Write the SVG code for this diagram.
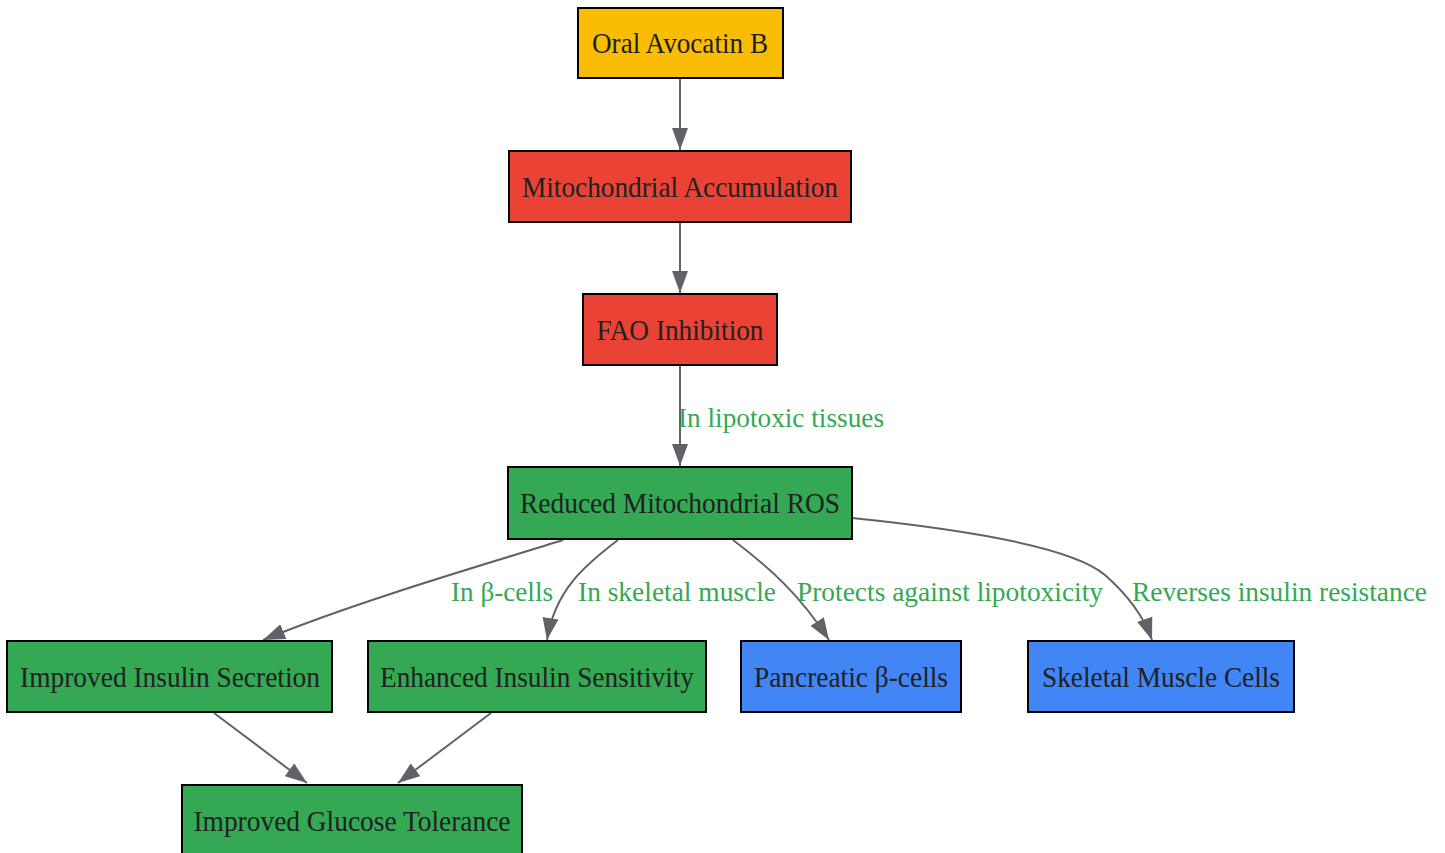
<svg xmlns="http://www.w3.org/2000/svg" width="1445" height="853" viewBox="0 0 1445 853">
<style>
.n rect{stroke:#000;stroke-width:2}
.n text{font-family:"Liberation Serif","Times New Roman",serif;font-size:29px;fill:#202124;text-anchor:middle}
.y{fill:#FBBC04}.r{fill:#EA4335}.g{fill:#34A853}.b{fill:#4285F4}
.e path{fill:none;stroke:#5f6368;stroke-width:2;marker-end:url(#ah)}
.e text{font-family:"Liberation Serif","Times New Roman",serif;font-size:28px;fill:#34A853}
</style>
<defs>
<marker id="ah" markerUnits="userSpaceOnUse" markerWidth="22" markerHeight="16" refX="22" refY="8" orient="auto">
<path d="M0,0 L22,8 L0,16 z" fill="#5f6368"/>
</marker>
</defs>
<rect width="1445" height="853" fill="#fff"/>
<g id="edges" class="e">
<path d="M680,78 L680,150"/>
<path d="M680,222 L680,293"/>
<path d="M680,365 L680,466"/>
<path d="M563,540 C500,560 360,600 263,640"/>
<path d="M618,540 C585,565 555,590 547,640"/>
<path d="M733,540 C770,568 800,595 829,640"/>
<path d="M852,518 C950,528 1070,545 1105,575 C1130,597 1145,620 1152,640"/>
<path d="M214,713 L307,783"/>
<path d="M491,713 L398,783"/>
<text x="678" y="427" textLength="206" lengthAdjust="spacingAndGlyphs">In lipotoxic tissues</text>
<text x="451" y="601" textLength="102" lengthAdjust="spacingAndGlyphs">In β-cells</text>
<text x="578" y="601" textLength="198" lengthAdjust="spacingAndGlyphs">In skeletal muscle</text>
<text x="797" y="601" textLength="306" lengthAdjust="spacingAndGlyphs">Protects against lipotoxicity</text>
<text x="1132" y="601" textLength="295" lengthAdjust="spacingAndGlyphs">Reverses insulin resistance</text>
</g>
<g id="oral" class="n"><rect class="y" x="578" y="8" width="205" height="70"/><text x="680" y="53" textLength="176" lengthAdjust="spacingAndGlyphs">Oral Avocatin B</text></g>
<g id="mito" class="n"><rect class="r" x="509" y="151" width="342" height="71"/><text x="680" y="197" textLength="316" lengthAdjust="spacingAndGlyphs">Mitochondrial Accumulation</text></g>
<g id="fao" class="n"><rect class="r" x="583" y="294" width="194" height="71"/><text x="680" y="340" textLength="167" lengthAdjust="spacingAndGlyphs">FAO Inhibition</text></g>
<g id="ros" class="n"><rect class="g" x="508" y="467" width="344" height="72"/><text x="680" y="513" textLength="320" lengthAdjust="spacingAndGlyphs">Reduced Mitochondrial ROS</text></g>
<g id="secretion" class="n"><rect class="g" x="7" y="641" width="325" height="71"/><text x="170" y="687" textLength="300" lengthAdjust="spacingAndGlyphs">Improved Insulin Secretion</text></g>
<g id="sensitivity" class="n"><rect class="g" x="368" y="641" width="338" height="71"/><text x="537" y="687" textLength="314" lengthAdjust="spacingAndGlyphs">Enhanced Insulin Sensitivity</text></g>
<g id="beta" class="n"><rect class="b" x="741" y="641" width="220" height="71"/><text x="851" y="687" textLength="194" lengthAdjust="spacingAndGlyphs">Pancreatic β-cells</text></g>
<g id="muscle" class="n"><rect class="b" x="1028" y="641" width="266" height="71"/><text x="1161" y="687" textLength="238" lengthAdjust="spacingAndGlyphs">Skeletal Muscle Cells</text></g>
<g id="glucose" class="n"><rect class="g" x="182" y="785" width="340" height="71"/><text x="352" y="831" textLength="317" lengthAdjust="spacingAndGlyphs">Improved Glucose Tolerance</text></g>
</svg>
